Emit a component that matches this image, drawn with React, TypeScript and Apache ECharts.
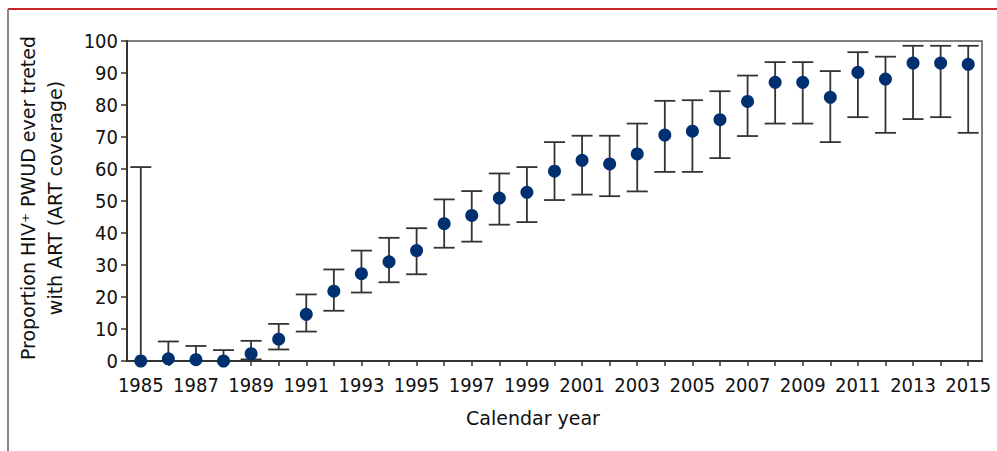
import React, { useEffect, useRef } from "react";
import * as echarts from "echarts";

const years = [
  "1985", "1986", "1987", "1988", "1989", "1990", "1991", "1992", "1993", "1994",
  "1995", "1996", "1997", "1998", "1999", "2000", "2001", "2002", "2003", "2004",
  "2005", "2006", "2007", "2008", "2009", "2010", "2011", "2012", "2013", "2014", "2015",
];
const coverage = [
  0, 0.7, 0.4, 0, 2.3, 6.8, 14.6, 21.8, 27.3, 31.0,
  34.5, 42.9, 45.5, 50.9, 52.7, 59.3, 62.7, 61.6, 64.7, 70.6,
  71.8, 75.4, 81.1, 87.1, 87.1, 82.4, 90.2, 88.1, 93.1, 93.1, 92.7,
];
const lower = [
  0, 0, 0, 0, 0.5, 3.6, 9.2, 15.7, 21.4, 24.6,
  27.1, 35.4, 37.3, 42.6, 43.4, 50.3, 52.0, 51.5, 53.0, 59.1,
  59.1, 63.4, 70.3, 74.2, 74.2, 68.4, 76.2, 71.3, 75.6, 76.2, 71.3,
];
const upper = [
  60.6, 6.1, 4.7, 3.4, 6.3, 11.6, 20.8, 28.6, 34.5, 38.5,
  41.5, 50.5, 53.1, 58.6, 60.6, 68.4, 70.4, 70.4, 74.2, 81.3,
  81.5, 84.3, 89.2, 93.4, 93.4, 90.6, 96.5, 95.1, 98.5, 98.5, 98.5,
];
const yTicks = { min: 0, max: 100, interval: 10 };
const yTitle = "Proportion HIV\u207A PWUD ever treted\nwith ART (ART coverage)";
const xTitle = "Calendar year";

const TICK_FONT = "'DejaVu Sans Condensed', 'DejaVu Sans', sans-serif";
const TITLE_FONT = "'DejaVu Sans', sans-serif";

export default function App() {
  const ref = useRef<HTMLDivElement>(null);
  useEffect(() => {
    if (!ref.current) return;
    const chart = echarts.init(ref.current, null, { renderer: "svg" });
    const errData = years.map((_, i) => [i, lower[i], upper[i]]);
    chart.setOption({
      animation: false,
      backgroundColor: "#ffffff",
      textStyle: { fontFamily: TICK_FONT },
      grid: {
        left: 127,
        top: 41,
        width: 855,
        height: 320,
        show: true,
        borderColor: "#555",
        borderWidth: 1.5,
        backgroundColor: "transparent",
      },
      xAxis: {
        type: "category",
        data: years,
        boundaryGap: true,
        axisLine: { lineStyle: { color: "#333", width: 2 } },
        axisTick: { show: true, alignWithLabel: true, interval: 0, length: 5, lineStyle: { color: "#333", width: 1.5 } },
        axisLabel: { interval: 1, color: "#111", fontSize: 20, margin: 14, fontFamily: TICK_FONT },
        splitLine: { show: false },
      },
      yAxis: {
        type: "value",
        min: yTicks.min,
        max: yTicks.max,
        interval: yTicks.interval,
        axisLine: { show: true, lineStyle: { color: "#333", width: 2 } },
        axisTick: { show: true, length: 6, lineStyle: { color: "#333", width: 1.5 } },
        axisLabel: { color: "#111", fontSize: 20, margin: 9, fontFamily: TICK_FONT },
        splitLine: { show: false },
      },
      graphic: [
        { type: "line", shape: { x1: 8, y1: 9, x2: 997, y2: 9 }, style: { stroke: "#cc2229", lineWidth: 2 } },
        { type: "line", shape: { x1: 8, y1: 9, x2: 8, y2: 451 }, style: { stroke: "#888888", lineWidth: 2 } },
        {
          type: "text",
          x: 41,
          y: 198,
          rotation: Math.PI / 2,
          style: {
            text: yTitle,
            fill: "#111",
            font: `19px ${TITLE_FONT}`,
            align: "center",
            verticalAlign: "middle",
            lineHeight: 27,
          },
        },
        {
          type: "text",
          x: 533,
          y: 418,
          style: {
            text: xTitle,
            fill: "#111",
            font: `19px ${TITLE_FONT}`,
            align: "center",
            verticalAlign: "middle",
          },
        },
      ],
      series: [
        {
          type: "custom",
          data: errData,
          z: 2,
          renderItem: (params: any, api: any) => {
            const i = api.value(0);
            const lo = api.coord([i, api.value(1)]);
            const hi = api.coord([i, api.value(2)]);
            const hw = 10.5;
            const st = { stroke: "#333", lineWidth: 1.8 };
            return {
              type: "group",
              children: [
                { type: "line", shape: { x1: lo[0], y1: lo[1], x2: hi[0], y2: hi[1] }, style: st },
                { type: "line", shape: { x1: hi[0] - hw, y1: hi[1], x2: hi[0] + hw, y2: hi[1] }, style: st },
                { type: "line", shape: { x1: lo[0] - hw, y1: lo[1], x2: lo[0] + hw, y2: lo[1] }, style: st },
              ],
            };
          },
        },
        {
          type: "scatter",
          data: coverage,
          symbol: "circle",
          symbolSize: 13,
          z: 3,
          itemStyle: { color: "#00306f", opacity: 1 },
        },
      ],
    });
    return () => chart.dispose();
  }, []);
  return (
    <div
      ref={ref}
      style={{ position: "fixed", left: 0, top: 0, width: 997, height: 451, background: "#fff" }}
    />
  );
}
